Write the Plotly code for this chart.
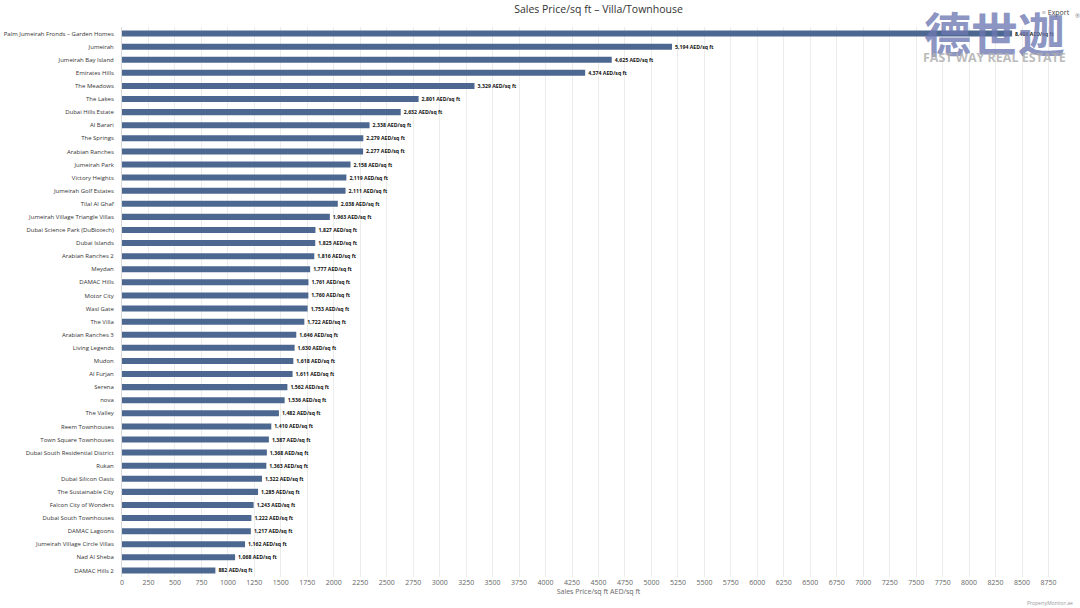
import plotly.graph_objects as go

areas = [
    "Palm Jumeirah Fronds – Garden Homes", "Jumeirah", "Jumeirah Bay Island", "Emirates Hills",
    "The Meadows", "The Lakes", "Dubai Hills Estate", "Al Barari", "The Springs",
    "Arabian Ranches", "Jumeirah Park", "Victory Heights", "Jumeirah Golf Estates",
    "Tilal Al Ghaf", "Jumeirah Village Triangle Villas", "Dubai Science Park (DuBiotech)",
    "Dubai Islands", "Arabian Ranches 2", "Meydan", "DAMAC Hills", "Motor City",
    "Wasl Gate", "The Villa", "Arabian Ranches 3", "Living Legends", "Mudon", "Al Furjan",
    "Serena", "nova", "The Valley", "Reem Townhouses", "Town Square Townhouses",
    "Dubai South Residential District", "Rukan", "Dubai Silicon Oasis",
    "The Sustainable City", "Falcon City of Wonders", "Dubai South Townhouses",
    "DAMAC Lagoons", "Jumeirah Village Circle Villas", "Nad Al Sheba", "DAMAC Hills 2",
]
price_sqft = [
    8406, 5194, 4625, 4374, 3329, 2801, 2632, 2338, 2279, 2277, 2158, 2119, 2111,
    2038, 1963, 1827, 1825, 1816, 1777, 1761, 1760, 1753, 1722, 1646, 1630, 1618, 1611,
    1562, 1536, 1482, 1410, 1387, 1368, 1363, 1322, 1285, 1243, 1222, 1217, 1162,
    1068, 882,
]
tick_vals = list(range(0, 9001, 250))

FONT = "Open Sans"

fig = go.Figure()
fig.add_trace(go.Bar(
    x=price_sqft,
    y=areas,
    orientation="h",
    marker=dict(color="#4d6890", line=dict(width=0)),
    width=0.46,
    text=[f"<b>{v:,} AED/sq ft</b>" for v in price_sqft],
    textposition="outside",
    constraintext="none",
    cliponaxis=False,
    textfont=dict(family=FONT, size=5.2, color="#111111"),
    hovertemplate="%{y}: %{x:,} AED/sq ft<extra></extra>",
))

fig.update_layout(
    width=1080, height=608,
    margin=dict(l=122, r=5, t=27, b=31, autoexpand=False),
    paper_bgcolor="white", plot_bgcolor="white",
    showlegend=False,
    font=dict(family=FONT, color="#333333"),
    title=dict(text="Sales Price/sq ft – Villa/Townhouse", x=0.5, xanchor="center",
               xref="paper", y=0.985, yanchor="middle",
               font=dict(family=FONT, size=10.5, color="#333333")),
    xaxis=dict(
        range=[0, 9000], tickmode="array", tickvals=tick_vals, automargin=False,
        showgrid=True, gridcolor="#ececec", gridwidth=1,
        zeroline=False, showline=False, ticks="",
        tickfont=dict(family=FONT, size=7, color="#666666"),
        title=dict(text="Sales Price/sq ft AED/sq ft", standoff=2,
                   font=dict(family=FONT, size=7, color="#666666")),
    ),
    yaxis=dict(
        autorange="reversed", showgrid=False, zeroline=False, automargin=False,
        showline=True, linecolor="#d8d8d8", linewidth=1, ticks="",
        tickfont=dict(family=FONT, size=6, color="#333333"),
        ticklabelstandoff=6,
    ),
)

# watermark & decorations (plot spans x 122..1075 px, y 27..577 px)
fig.add_annotation(text="<b>德世迦</b>", xref="paper", yref="paper", x=0.916, y=0.9927,
                   xanchor="center", yanchor="middle", showarrow=False,
                   font=dict(family="Noto Sans CJK SC", size=47, color="rgba(110,120,178,0.78)"))
fig.add_annotation(text="<b>FAST WAY REAL ESTATE</b>", xref="paper", yref="paper", x=0.916, y=0.945,
                   xanchor="center", yanchor="middle", showarrow=False,
                   font=dict(family=FONT, size=12.5, color="rgba(175,175,175,0.85)"))
fig.add_annotation(text="≡ Export", xref="paper", yref="paper", x=0.9969, y=1.027,
                   xanchor="right", yanchor="middle", showarrow=False,
                   font=dict(family=FONT, size=7, color="#444444"))
fig.add_annotation(text="®", xref="paper", yref="paper", x=1.003, y=1.020,
                   xanchor="center", yanchor="middle", showarrow=False,
                   font=dict(family=FONT, size=6, color="#888888"))
fig.add_annotation(text="PropertyMonitor.ae", xref="paper", yref="paper", x=1.0, y=-0.047,
                   xanchor="right", yanchor="middle", showarrow=False,
                   font=dict(family=FONT, size=5, color="#999999"))

fig.write_html("out.html", config={"displayModeBar": False},
               post_script="document.body.style.margin='0';document.body.style.overflow='hidden';")
